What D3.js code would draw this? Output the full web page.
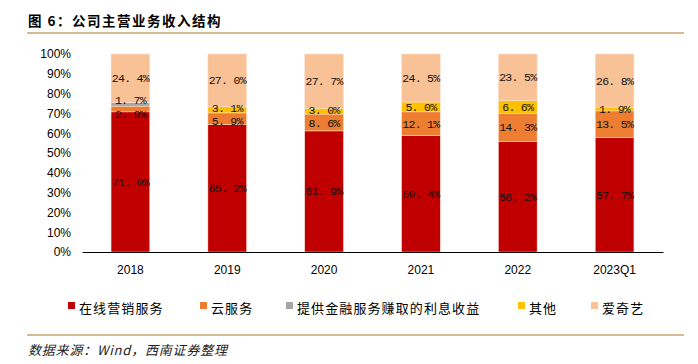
<!DOCTYPE html>
<html>
<head>
<meta charset="utf-8">
<script src="https://cdn.jsdelivr.net/npm/d3@7"></script>
<style>
  body { margin: 0; background: #fff; }
  svg { display: block; }
</style>
</head>
<body>
<svg id="canvas" width="698" height="364"></svg>
<script>
// categories and series (share of revenue, %)
let years = ['2018', '2019', '2020', '2021', '2022', '2023Q1']
let seriesNames = ['在线营销服务', '云服务', '提供金融服务赚取的利息收益', '其他', '爱奇艺']
let onlineMarketing = [71.0, 65.2, 61.9, 59.4, 56.2, 57.7]
let cloud = [2.9, 5.9, 8.6, 12.1, 14.3, 13.5]
let finance = [1.7, 0, 0, 0, 0, 0]
let others = [0.3, 3.1, 3.0, 5.0, 6.6, 1.9]
let iqiyi = [24.4, 27.0, 27.7, 24.5, 23.5, 26.8]
let yTicks = [0, 0.1, 0.2, 0.3, 0.4, 0.5, 0.6, 0.7, 0.8, 0.9, 1]

let colors = ['#C00000', '#ED7D31', '#A5A5A5', '#FFC000', '#F8C196']
let allSeries = [onlineMarketing, cloud, finance, others, iqiyi]

let rows = years.map((y, i) => {
    let row = { year: y }
    seriesNames.forEach((n, k) => { row[n] = allSeries[k][i] })
    return row
})

let svg = d3.select('#canvas')

// title
svg.append('text')
    .attr('x', 28).attr('y', 26)
    .style('font-family', '"Noto Sans CJK SC", sans-serif')
    .style('font-size', '13.5px')
    .style('font-weight', 'bold')
    .style('letter-spacing', '1.5px')
    .attr('fill', '#000')
    .text('图 6：公司主营业务收入结构')

svg.append('line')
    .attr('x1', 27).attr('x2', 684)
    .attr('y1', 33).attr('y2', 33)
    .attr('stroke', '#C9A46E').attr('stroke-width', 1.5)

let xScale = d3.scaleBand()
    .domain(years)
    .range([82, 663])
    .paddingInner(0.6)
    .paddingOuter(0.3)

let yScale = d3.scaleLinear()
    .domain([0, 1])
    .range([252, 54])

let stack = d3.stack()
    .keys(seriesNames)
    .offset(d3.stackOffsetExpand)

let stacked = stack(rows)

let layers = svg.selectAll('g.layer')
    .data(stacked)
    .enter()
    .append('g')
    .attr('class', 'layer')
    .attr('fill', (d, i) => colors[i])

layers.selectAll('rect')
    .data((d) => d)
    .enter()
    .append('rect')
    .attr('x', (d) => xScale(d.data.year))
    .attr('width', xScale.bandwidth())
    .attr('y', (d) => yScale(d[1]))
    .attr('height', (d) => yScale(d[0]) - yScale(d[1]))
    .attr('stroke', '#fbe3d6')
    .attr('stroke-width', 0.5)

// data labels, pushed apart where two small segments sit together
years.forEach((yr, i) => {
    let labels = []
    stacked.forEach((layer, k) => {
        let d = layer[i]
        let v = allSeries[k][i]
        if (v < 1) return
        labels.push({ v: v, cy: (yScale(d[0]) + yScale(d[1])) / 2 })
    })
    for (let j = 1; j < labels.length; j++) {
        let gap = labels[j - 1].cy - labels[j].cy
        let want = gap < 8 ? 14 : 13
        if (gap < want) {
            let push = (want - gap) / 2
            labels[j - 1].cy += push
            labels[j].cy -= push
        }
    }
    labels.forEach((l) => {
        svg.append('text')
            .attr('x', xScale(yr) + xScale.bandwidth() / 2)
            .attr('y', l.cy + 4)
            .attr('text-anchor', 'middle')
            .style('font-family', '"Liberation Mono", monospace')
            .style('font-size', '11.5px')
            .style('letter-spacing', '-0.7px')
            .attr('fill', '#111')
            .text(l.v.toFixed(1).replace('.', '. ') + '%')
    })
})

// y axis
let yAxis = d3.axisLeft(yScale)
    .tickValues(yTicks)
    .tickFormat(d3.format('.0%'))
    .tickSize(0)
    .tickPadding(0)

let yG = svg.append('g')
    .attr('transform', 'translate(71, 0)')
    .call(yAxis)
yG.select('.domain').remove()
yG.selectAll('text')
    .style('font-family', '"Liberation Sans", Arial, sans-serif')
    .style('font-size', '12px')
    .attr('fill', '#000')

// x axis
let xAxis = d3.axisBottom(xScale).tickSize(0).tickPadding(13)
let xG = svg.append('g')
    .attr('transform', 'translate(0, 252)')
    .call(xAxis)
xG.select('.domain').attr('stroke', '#000').attr('stroke-width', 1)
xG.selectAll('text')
    .style('font-family', '"Liberation Sans", Arial, sans-serif')
    .style('font-size', '12px')
    .attr('fill', '#000')

// legend
let legendX = [68, 200, 286, 518, 591]
seriesNames.forEach((n, k) => {
    let g = svg.append('g').attr('transform', 'translate(' + legendX[k] + ', 308)')
    g.append('rect')
        .attr('x', 0).attr('y', -6)
        .attr('width', 7).attr('height', 7)
        .attr('fill', colors[k])
    g.append('text')
        .attr('x', 11).attr('y', 5)
        .style('font-family', '"Noto Sans CJK SC", sans-serif')
        .style('font-size', '13px')
        .style('letter-spacing', '1.1px')
        .attr('fill', '#000')
        .text(n)
})

// footer
svg.append('line')
    .attr('x1', 27).attr('x2', 684)
    .attr('y1', 335).attr('y2', 335)
    .attr('stroke', '#C9A46E').attr('stroke-width', 1.5)

svg.append('text')
    .attr('x', 28).attr('y', 355)
    .style('font-family', '"Noto Sans CJK SC", sans-serif')
    .style('font-size', '13px')
    .style('font-style', 'italic')
    .style('letter-spacing', '0.8px')
    .attr('fill', '#222')
    .text('数据来源：Wind，西南证券整理')
</script>
</body>
</html>
